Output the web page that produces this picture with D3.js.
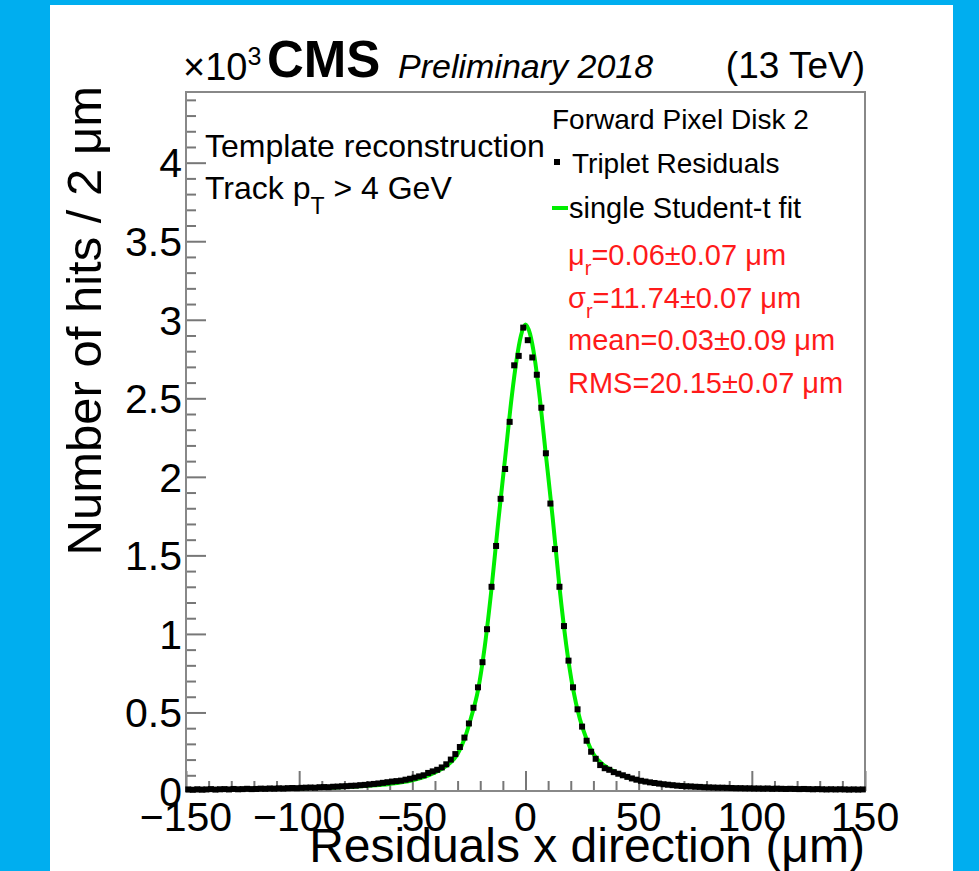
<!DOCTYPE html>
<meta charset="utf-8">
<html>
    <head>
        <title>Forward Pixel Disk 2 residuals</title>
        <style>
            body { margin: 0; background: #00aeef; }
            text { font-family: "Liberation Sans", Arial, Helvetica, sans-serif; }
        </style>
    </head>

    <body>
        <div id="viz"></div>

        <script src="https://cdnjs.cloudflare.com/ajax/libs/d3/7.8.5/d3.min.js"></script>
        <script>
            // histogram: 2 um bins from -150 to 150, counts in units of 10^3
            var binLow = -150;
            var binWidth = 2;
            var counts = [
                0.010, 0.008, 0.011, 0.009, 0.010, 0.012, 0.009, 0.011, 0.012, 0.010,
                0.013, 0.011, 0.012, 0.014, 0.012, 0.013, 0.015, 0.014, 0.016, 0.015,
                0.017, 0.016, 0.018, 0.019, 0.018,
                0.020, 0.021, 0.022, 0.021, 0.024, 0.025, 0.024, 0.027, 0.028, 0.030,
                0.031, 0.033, 0.034, 0.037, 0.039, 0.042, 0.045, 0.048, 0.052, 0.056,
                0.060, 0.063, 0.066, 0.072, 0.078,
                0.085, 0.093, 0.100, 0.115, 0.125, 0.135, 0.150, 0.170, 0.200, 0.235,
                0.280, 0.340, 0.430, 0.530, 0.660, 0.820, 1.030, 1.300, 1.560, 1.860,
                2.050, 2.350, 2.710, 2.770, 2.950,
                2.870, 2.760, 2.650, 2.440, 2.150, 1.830, 1.540, 1.300, 1.050, 0.830,
                0.660, 0.520, 0.410, 0.320, 0.250, 0.205, 0.165, 0.145, 0.135, 0.120,
                0.110, 0.100, 0.090, 0.080, 0.072,
                0.065, 0.060, 0.055, 0.051, 0.047, 0.043, 0.040, 0.037, 0.034, 0.032,
                0.030, 0.029, 0.027, 0.026, 0.024, 0.023, 0.022, 0.021, 0.021, 0.020,
                0.019, 0.018, 0.018, 0.017, 0.017,
                0.016, 0.016, 0.015, 0.016, 0.014, 0.015, 0.014, 0.013, 0.014, 0.013,
                0.012, 0.013, 0.012, 0.011, 0.012, 0.011, 0.010, 0.011, 0.010, 0.011,
                0.010, 0.009, 0.010, 0.009, 0.010
            ];

            // student-t fit curve
            var fitX = [-150, -130, -110, -100, -90, -80, -70, -60, -50, -45, -40, -35, -30, -27, -24, -21, -18, -15, -12, -9, -6, -4, -2, 0,
                        2, 4, 6, 9, 12, 15, 18, 21, 24, 27, 30, 35, 40, 45, 50, 60, 70, 80, 90, 100, 110, 130, 150];
            var fitY = [0.010, 0.012, 0.015, 0.017, 0.020, 0.025, 0.033, 0.045, 0.068, 0.088, 0.118, 0.160, 0.235, 0.330, 0.470, 0.640, 0.920, 1.290, 1.720, 2.120, 2.520, 2.740, 2.900, 2.970,
                        2.910, 2.760, 2.540, 2.140, 1.740, 1.300, 0.930, 0.650, 0.460, 0.330, 0.235, 0.160, 0.118, 0.088, 0.068, 0.045, 0.033, 0.025, 0.020, 0.017, 0.015, 0.012, 0.010];

            var xTicks = [-150, -100, -50, 0, 50, 100, 150];
            var yTicks = [0, 0.5, 1, 1.5, 2, 2.5, 3, 3.5, 4];
            var fitResults = [
                ["\u03bc", "r", "=0.06\u00b10.07 \u03bcm"],
                ["\u03c3", "r", "=11.74\u00b10.07 \u03bcm"],
                ["mean=0.03\u00b10.09 \u03bcm", "", ""],
                ["RMS=20.15\u00b10.07 \u03bcm", "", ""]
            ];

            var W = 979, H = 871;
            var fx0 = 186, fx1 = 865, fy0 = 92, fy1 = 791;

            var svg = d3.select("#viz")
                .append("svg")
                .attr("width", W)
                .attr("height", H)
                .style("display", "block");

            svg.append("rect")
                .attr("width", W).attr("height", H)
                .attr("fill", "#00aeef");
            svg.append("rect")
                .attr("x", 50).attr("y", 5)
                .attr("width", 903).attr("height", H - 5)
                .attr("fill", "#fff");

            var x = d3.scaleLinear().domain([-150, 150]).range([fx0, fx1]);
            var y = d3.scaleLinear().domain([0, 4.45]).range([fy1, fy0]);

            // ticks inside the frame, left and bottom only
            var xAxis = d3.axisBottom(x)
                .tickValues(d3.range(-150, 151, 10))
                .tickSize(-10)
                .tickFormat("");
            var gx = svg.append("g")
                .attr("transform", "translate(0," + fy1 + ")")
                .call(xAxis);
            gx.selectAll(".tick line")
                .attr("y2", function (d) { return d % 50 == 0 ? -20 : -10; });

            var yAxis = d3.axisLeft(y)
                .tickValues(d3.range(0, 44.5, 1).map(function (v) { return v / 10; }))
                .tickSize(-10)
                .tickFormat("");
            var gy = svg.append("g")
                .attr("transform", "translate(" + fx0 + ",0)")
                .call(yAxis);
            gy.selectAll(".tick line")
                .attr("x2", function (d) { return Math.round(d * 10) % 5 == 0 ? 20 : 10; });

            svg.selectAll(".domain").remove();
            svg.selectAll(".tick line").attr("stroke", "#777").attr("stroke-width", 2);

            svg.append("rect")
                .attr("x", fx0).attr("y", fy0)
                .attr("width", fx1 - fx0).attr("height", fy1 - fy0)
                .attr("fill", "none")
                .attr("stroke", "#888")
                .attr("stroke-width", 2);

            // tick labels
            svg.append("g").selectAll("text")
                .data(xTicks).enter()
                .append("text")
                .attr("x", function (d) { return x(d); })
                .attr("y", 831)
                .attr("text-anchor", "middle")
                .attr("font-size", 41)
                .text(function (d) { return d < 0 ? "\u2212" + (-d) : d; });

            svg.append("g").selectAll("text")
                .data(yTicks).enter()
                .append("text")
                .attr("x", 182)
                .attr("y", function (d) { return y(d); })
                .attr("dy", "0.36em")
                .attr("text-anchor", "end")
                .attr("font-size", 41)
                .text(function (d) { return d; });

            // axis titles
            svg.append("text")
                .attr("x", fx1).attr("y", 862)
                .attr("text-anchor", "end")
                .attr("font-size", 48)
                .text("Residuals x direction (\u03bcm)");

            svg.append("text")
                .attr("transform", "translate(101,86) rotate(-90)")
                .attr("text-anchor", "end")
                .attr("font-size", 49)
                .text("Number of hits / 2 \u03bcm");

            // header
            var mult = svg.append("text").attr("x", 183).attr("y", 80).attr("font-size", 38);
            mult.append("tspan").text("\u00d710");
            mult.append("tspan").attr("dy", -15).attr("font-size", 25).text("3");

            svg.append("text")
                .attr("x", 267).attr("y", 77)
                .attr("font-size", 51).attr("font-weight", "bold")
                .text("CMS");
            svg.append("text")
                .attr("x", 398).attr("y", 78)
                .attr("font-size", 34).attr("font-style", "italic")
                .text("Preliminary 2018");
            svg.append("text")
                .attr("x", fx1).attr("y", 78)
                .attr("text-anchor", "end")
                .attr("font-size", 37)
                .text("(13 TeV)");

            // labels inside the frame
            svg.append("text")
                .attr("x", 205).attr("y", 157)
                .attr("font-size", 32)
                .text("Template reconstruction");
            var trk = svg.append("text").attr("x", 205).attr("y", 199).attr("font-size", 32);
            trk.append("tspan").text("Track p");
            trk.append("tspan").attr("dy", 15).attr("font-size", 23).text("T");
            trk.append("tspan").attr("dy", -15).text(" > 4 GeV");

            // fit curve then data points
            var line = d3.line()
                .x(function (d) { return x(d[0]); })
                .y(function (d) { return y(d[1]); })
                .curve(d3.curveMonotoneX);

            svg.append("path")
                .datum(fitX.map(function (v, i) { return [v, fitY[i]]; }))
                .attr("d", line)
                .attr("fill", "none")
                .attr("stroke", "#00ee00")
                .attr("stroke-width", 4);

            svg.append("g").selectAll("rect")
                .data(counts).enter()
                .append("rect")
                .attr("x", function (d, i) { return x(binLow + binWidth * (i + 0.5)) - 3; })
                .attr("y", function (d) { return y(d) - 3; })
                .attr("width", 6)
                .attr("height", 6)
                .attr("fill", "#000");

            // legend
            svg.append("text")
                .attr("x", 552).attr("y", 129)
                .attr("font-size", 28)
                .text("Forward Pixel Disk 2");
            svg.append("rect")
                .attr("x", 554).attr("y", 159)
                .attr("width", 6).attr("height", 6)
                .attr("fill", "#000");
            svg.append("text")
                .attr("x", 572).attr("y", 173)
                .attr("font-size", 28)
                .text("Triplet Residuals");
            svg.append("line")
                .attr("x1", 552).attr("x2", 568)
                .attr("y1", 208).attr("y2", 208)
                .attr("stroke", "#00ee00")
                .attr("stroke-width", 4);
            svg.append("text")
                .attr("x", 569).attr("y", 218)
                .attr("font-size", 29)
                .text("single Student-t fit");

            var res = svg.append("g").selectAll("text")
                .data(fitResults).enter()
                .append("text")
                .attr("x", 568)
                .attr("y", function (d, i) { return 265 + i * 42.5; })
                .attr("font-size", 29)
                .attr("fill", "#ff1a1a");
            res.append("tspan").text(function (d) { return d[0]; });
            res.append("tspan").attr("dy", 10).attr("font-size", 20).text(function (d) { return d[1]; });
            res.append("tspan").attr("dy", -10).text(function (d) { return d[2]; });
        </script>
    </body>
</html>
